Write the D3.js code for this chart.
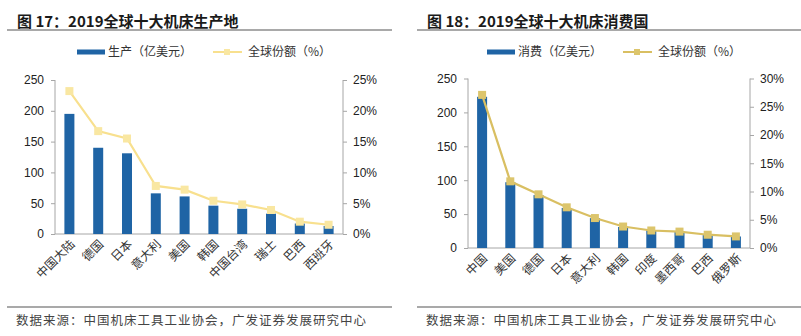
<!DOCTYPE html>
<html>
<head>
<meta charset="utf-8">
<script src="https://cdn.jsdelivr.net/npm/d3@7"></script>
<style>
  body { margin: 0; background: #fff; }
  svg { display: block; }
  .num { font-family: "Liberation Sans", Arial, sans-serif; font-size: 12px; fill: #222; }
  .cjk { font-family: "Noto Sans CJK SC", sans-serif; fill: #333; }
</style>
</head>
<body>
<svg id="chart" width="801" height="336"></svg>
<script>
// figure 17 - production
var prodCountries = ["中国大陆", "德国", "日本", "意大利", "美国", "韩国", "中国台湾", "瑞士", "巴西", "西班牙"];
var prodValues = [195, 140, 131, 66, 61, 46, 41, 33, 17, 13];
var prodShare = [0.232, 0.167, 0.155, 0.078, 0.072, 0.054, 0.048, 0.039, 0.020, 0.015];

// figure 18 - consumption
var consCountries = ["中国", "美国", "德国", "日本", "意大利", "韩国", "印度", "墨西哥", "巴西", "俄罗斯"];
var consValues = [223, 97, 78, 59, 44, 31, 26, 24, 19, 17];
var consShare = [0.271, 0.118, 0.095, 0.072, 0.053, 0.038, 0.031, 0.029, 0.0235, 0.0205];

var leftTicks = [0, 50, 100, 150, 200, 250];
var prodShareTicks = [0, 0.05, 0.10, 0.15, 0.20, 0.25];
var consShareTicks = [0, 0.05, 0.10, 0.15, 0.20, 0.25, 0.30];

var svg = d3.select("#chart");
var axisColor = "#a6a6a6";
var barColor = "#1f64a5";

function drawPanel(p) {
    var g = svg.append("g");

    // title + rule
    g.append("text")
        .attr("class", "cjk")
        .attr("x", p.titleX).attr("y", 27)
        .style("font-size", "15px").style("font-weight", "bold").style("fill", "#1a1a1a")
        .text(p.title);
    g.append("line")
        .attr("x1", p.ruleX0).attr("x2", p.ruleX1)
        .attr("y1", 30).attr("y2", 30)
        .attr("stroke", "#8c8c8c").attr("stroke-width", 1.5);

    // legend
    g.append("rect")
        .attr("x", p.legX).attr("y", 49.5).attr("width", 28).attr("height", 5)
        .attr("fill", barColor);
    g.append("text")
        .attr("class", "cjk")
        .attr("x", p.legX + 31).attr("y", 56)
        .style("font-size", "12px")
        .text(p.barName);
    g.append("line")
        .attr("x1", p.legX + 136).attr("x2", p.legX + 165)
        .attr("y1", 52).attr("y2", 52)
        .attr("stroke", p.lineColor).attr("stroke-width", 2);
    g.append("rect")
        .attr("x", p.legX + 147).attr("y", 49).attr("width", 6).attr("height", 6)
        .attr("fill", p.markColor);
    g.append("text")
        .attr("class", "cjk")
        .attr("x", p.legX + 171).attr("y", 56)
        .style("font-size", "12px")
        .text("全球份额（%）");

    // scales
    var x = d3.scaleBand().domain(p.cats).range([p.x0, p.x1]);
    var y = d3.scaleLinear().domain([0, 250]).range([p.y0, p.yTop]);
    var y2 = d3.scaleLinear().domain([0, p.shareMax]).range([p.y0, p.yTop]);

    // axes
    var yAxis = g.append("g")
        .attr("transform", "translate(" + p.x0 + ",0)")
        .call(d3.axisLeft(y).tickValues(leftTicks).tickSize(4).tickSizeOuter(4).tickPadding(7));
    var yAxis2 = g.append("g")
        .attr("transform", "translate(" + p.x1 + ",0)")
        .call(d3.axisRight(y2).tickValues(p.shareTicks).tickSize(4).tickSizeOuter(4).tickPadding(6)
            .tickFormat(d3.format(".0%")));
    [yAxis, yAxis2].forEach(function(a) {
        a.selectAll("path, line").attr("stroke", axisColor);
        a.selectAll("text").attr("class", "num").attr("fill", null);
        a.select(".domain").remove();
        a.append("line").attr("y1", p.y0).attr("y2", p.yTop).attr("stroke", axisColor);
    });

    g.append("line")
        .attr("x1", p.x0).attr("x2", p.x1)
        .attr("y1", p.y0).attr("y2", p.y0)
        .attr("stroke", axisColor);

    // bars
    g.selectAll("rect.bar")
        .data(p.values)
        .enter()
        .append("rect")
        .attr("class", "bar")
        .attr("x", function(d, i) { return x(p.cats[i]) + x.bandwidth() / 2 - 5; })
        .attr("width", 10)
        .attr("y", function(d) { return y(d); })
        .attr("height", function(d) { return p.y0 - y(d); })
        .attr("fill", barColor);

    // share line
    var line = d3.line()
        .x(function(d, i) { return x(p.cats[i]) + x.bandwidth() / 2; })
        .y(function(d) { return y2(d); });
    g.append("path")
        .datum(p.share)
        .attr("d", line)
        .attr("fill", "none")
        .attr("stroke", p.lineColor)
        .attr("stroke-width", 2.2);
    g.selectAll("rect.mark")
        .data(p.share)
        .enter()
        .append("rect")
        .attr("class", "mark")
        .attr("x", function(d, i) { return x(p.cats[i]) + x.bandwidth() / 2 - 4; })
        .attr("y", function(d) { return y2(d) - 4; })
        .attr("width", 8).attr("height", 8)
        .attr("fill", p.markColor);

    // category labels, rotated
    g.selectAll("text.cat")
        .data(p.cats)
        .enter()
        .append("text")
        .attr("class", "cjk cat")
        .attr("transform", function(d) {
            return "translate(" + (x(d) + x.bandwidth() / 2 + 3) + "," + (p.y0 + 8) + ") rotate(-45)";
        })
        .attr("text-anchor", "end")
        .attr("dy", "0.35em")
        .style("font-size", "12px")
        .text(function(d) { return d; });

    // footer
    g.append("line")
        .attr("x1", p.ruleX0).attr("x2", p.ruleX1)
        .attr("y1", 307).attr("y2", 307)
        .attr("stroke", "#8c8c8c").attr("stroke-width", 1.5);
    g.append("text")
        .attr("class", "cjk")
        .attr("x", p.titleX - 1).attr("y", 325)
        .style("font-size", "12.5px").style("letter-spacing", "1px").style("fill", "#444")
        .text("数据来源：中国机床工具工业协会，广发证券发展研究中心");
}

drawPanel({
    title: "图 17：2019全球十大机床生产地",
    titleX: 17, ruleX0: 7, ruleX1: 392,
    legX: 77, barName: "生产（亿美元）",
    cats: prodCountries, values: prodValues, share: prodShare,
    shareMax: 0.25, shareTicks: prodShareTicks,
    x0: 55, x1: 343, y0: 234, yTop: 80,
    lineColor: "#f8e08e", markColor: "#f9e7a2"
});

drawPanel({
    title: "图 18：2019全球十大机床消费国",
    titleX: 427, ruleX0: 417, ruleX1: 801,
    legX: 487, barName: "消费（亿美元）",
    cats: consCountries, values: consValues, share: consShare,
    shareMax: 0.30, shareTicks: consShareTicks,
    x0: 468, x1: 750, y0: 248, yTop: 78.5,
    lineColor: "#d9bf62", markColor: "#dcc56c"
});
</script>
</body>
</html>
